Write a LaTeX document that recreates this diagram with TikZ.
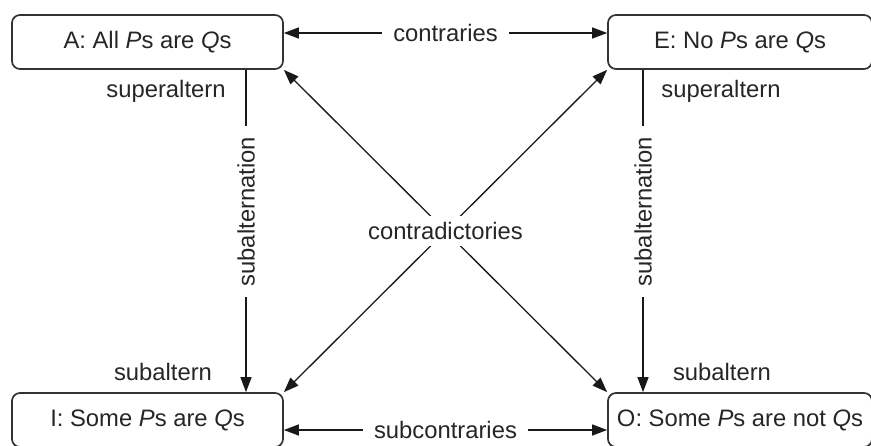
\documentclass[tikz,border=0pt]{standalone}
\usepackage{fontspec}
\setmainfont{Liberation Sans}
\usetikzlibrary{arrows.meta, positioning, calc}

\begin{document}
\begin{tikzpicture}[x=1pt, y=-1pt, font=\fontsize{23.8}{28}\selectfont,
        prop/.style={draw=black!80, line width=1.7pt, rounded corners=8pt, fill=white,
                     minimum height=54pt, text=black!85},
        rel/.style={{Triangle[length=15pt, width=11pt]}-{Triangle[length=15pt, width=11pt]}, line width=1.3pt, black!90},
        sub/.style={-{Triangle[length=15pt, width=11pt]}, line width=1.3pt, black!90},
        lbl/.style={fill=white, text=black!85, inner xsep=11pt, inner ysep=6pt},
        txt/.style={text=black!85}]
        \useasboundingbox (0,0) rectangle (871,446);

        % Square of opposition: the four propositions
        \node[prop, minimum width=271pt] (A) at (147.5,42) {A: All \textit{P}s are \textit{Q}s};
        \node[prop, minimum width=264pt] (E) at (740,42) {E: No \textit{P}s are \textit{Q}s};
        \node[prop, minimum width=271pt] (I) at (147.5,420) {I: Some \textit{P}s are \textit{Q}s};
        \node[prop, minimum width=264pt] (O) at (740,420) {O: Some \textit{P}s are not \textit{Q}s};

        % Contraries / subcontraries
        \draw[rel] ([yshift=9pt]A.east) -- node[lbl] (contr) {contraries} ([yshift=9pt]E.west);
        \draw[rel] ([yshift=-10pt]I.east) -- node[lbl] (subcontr) {subcontraries} ([yshift=-10pt]O.west);

        % Subalternation
        \draw[sub] ([xshift=98.5pt]A.south) -- node[lbl, pos=0.44, rotate=90] (subL) {subalternation} ([xshift=98.5pt]I.north);
        \draw[sub] ([xshift=-97pt]E.south) -- node[lbl, pos=0.44, rotate=90] (subR) {subalternation} ([xshift=-97pt]O.north);

        % Contradictories
        \draw[rel] (E.south west) -- (I.north east);
        \draw[rel] (A.south east) -- node[lbl] (contrad) {contradictories} (O.north west);

        % Superaltern / subaltern
        \node[txt] (supA) at (166,91) {superaltern};
        \node[txt] (supE) at (721,91) {superaltern};
        \node[txt] (subI) at (163,372) {subaltern};
        \node[txt] (subO) at (722,372) {subaltern};
\end{tikzpicture}
\end{document}
